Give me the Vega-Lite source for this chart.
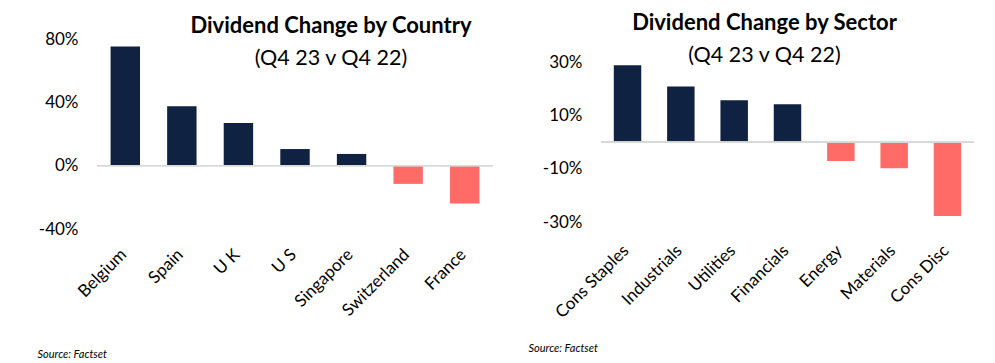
{
  "$schema": "https://vega.github.io/schema/vega-lite/v6.json",
  "background": "white",
  "padding": {"left": 37, "top": 11, "right": 5, "bottom": 5},
  "spacing": 34,
  "config": {
    "font": "Lato",
    "view": {"stroke": null},
    "title": {"font": "Lato", "fontSize": 22, "fontWeight": "bold", "color": "black", "anchor": "middle", "subtitleFont": "Lato", "subtitleFontSize": 21.5, "subtitleColor": "black", "subtitlePadding": 10},
    "axisY": {"domain": false, "ticks": false, "grid": false, "labelFont": "Lato", "labelFontSize": 17, "labelColor": "black", "labelPadding": 19, "title": null},
    "axisX": {"domain": false, "ticks": false, "grid": false, "labelFont": "Lato", "labelFontSize": 17, "labelColor": "black", "labelAngle": -45, "labelOffset": -7, "titleFont": "Lato", "titleFontSize": 11, "titleFontStyle": "italic", "titleFontWeight": "normal", "titleColor": "black", "titleAnchor": "start", "titleAlign": "left", "titleBaseline": "alphabetic"}
  },
  "hconcat": [
    {
      "width": 396,
      "height": 190,
      "title": {"text": "Dividend Change by Country", "subtitle": "(Q4 23 v Q4 22)", "dx": 36, "offset": -40},
      "data": {"values": [
        {"name": "Belgium", "v": 75.2},
        {"name": "Spain", "v": 37.6},
        {"name": "U K", "v": 26.9},
        {"name": "U S", "v": 10.5},
        {"name": "Singapore", "v": 7.4},
        {"name": "Switzerland", "v": -11.5},
        {"name": "France", "v": -23.9}
      ]},
      "layer": [
        {
          "mark": {"type": "bar"},
          "encoding": {
            "x": {"field": "name", "type": "nominal", "sort": null, "scale": {"paddingInner": 0.48, "paddingOuter": 0.24}, "axis": {"title": "Source: Factset", "labelPadding": 17, "titleX": -60, "titleY": 128}},
            "y": {"field": "v", "type": "quantitative", "scale": {"domain": [-40, 80], "nice": false}, "axis": {"values": [-40, 0, 40, 80], "labelExpr": "datum.value + '%'"}},
            "color": {"condition": {"test": "datum.v > 0", "value": "#0f2242"}, "value": "#ff6b66"}
          }
        },
        {
          "mark": {"type": "rule", "color": "#d9d9d9", "strokeWidth": 1},
          "encoding": {"y": {"datum": 0}}
        }
      ]
    },
    {
      "width": 373,
      "height": 183,
      "title": {"text": "Dividend Change by Sector", "subtitle": "(Q4 23 v Q4 22)", "dx": -23, "offset": -28},
      "data": {"values": [
        {"name": "Cons Staples", "v": 28.9},
        {"name": "Industrials", "v": 20.9},
        {"name": "Utilities", "v": 15.7},
        {"name": "Financials", "v": 14.2},
        {"name": "Energy", "v": -7.1},
        {"name": "Materials", "v": -9.8},
        {"name": "Cons Disc", "v": -27.7}
      ]},
      "layer": [
        {
          "mark": {"type": "bar"},
          "encoding": {
            "x": {"field": "name", "type": "nominal", "sort": null, "scale": {"paddingInner": 0.485, "paddingOuter": 0.24}, "axis": {"title": "Source: Factset", "labelPadding": 20, "titleX": -73, "titleY": 129}},
            "y": {"field": "v", "type": "quantitative", "scale": {"domain": [-30, 38.75], "nice": false}, "axis": {"values": [-30, -10, 10, 30], "labelExpr": "datum.value + '%'"}},
            "color": {"condition": {"test": "datum.v > 0", "value": "#0f2242"}, "value": "#ff6b66"}
          }
        },
        {
          "mark": {"type": "rule", "color": "#d9d9d9", "strokeWidth": 1},
          "encoding": {"y": {"datum": 0}}
        }
      ]
    }
  ]
}
